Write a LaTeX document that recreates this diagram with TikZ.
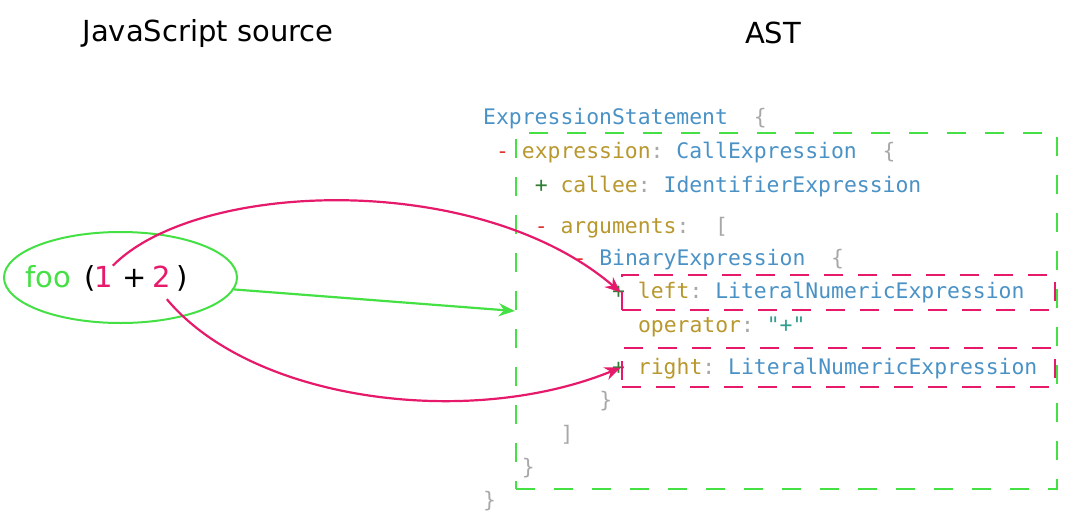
\documentclass[tikz,border=0pt]{standalone}
\usepackage{fontspec}
\setmainfont{DejaVu Sans}
\setmonofont{DejaVu Sans Mono}
\usetikzlibrary{arrows.meta, positioning, shapes.geometric}

\definecolor{astblue}{HTML}{4A92C6}
\definecolor{astgold}{HTML}{B8982E}
\definecolor{astgrey}{HTML}{A8A8A8}
\definecolor{astred}{HTML}{E0342F}
\definecolor{astplus}{HTML}{2E7D32}
\definecolor{aststrcol}{HTML}{2F9E8F}
\definecolor{linkpink}{HTML}{E6196B}
\definecolor{boxgreen}{HTML}{44E044}

% token colours for the AST listing
\newcommand{\asttype}[1]{{\color{astblue}#1}}
\newcommand{\astkey}[1]{{\color{astgold}#1}}
\newcommand{\astpunct}[1]{{\color{astgrey}#1}}
\newcommand{\astminus}{{\color{astred}-}}
\newcommand{\astplus}{{\color{astplus}+}}
\newcommand{\aststr}[1]{{\color{aststrcol}#1}}

\begin{document}
\begin{tikzpicture}[
    x=1pt, y=-1pt,
    >=Stealth, % Set default arrow tip style
    title/.style={font=\fontsize{29}{32}\selectfont, text=black},
    src/.style={font=\fontsize{29}{32}\selectfont, inner sep=0pt, anchor=base west},
    code/.style={font=\ttfamily\fontsize{21.4}{24}\selectfont, inner sep=0pt, anchor=base west},
    greenbox/.style={draw=boxgreen, line width=2.4pt, dash pattern=on 19pt off 19pt},
    pinkbox/.style={draw=linkpink, line width=2.4pt, dash pattern=on 19pt off 15pt},
    pinklink/.style={->, draw=linkpink, line width=2.2pt, >={Stealth[length=16pt, width=13pt]}},
    greenlink/.style={->, draw=boxgreen, line width=2.2pt, >={Stealth[length=16pt, width=13pt]}}
]
    \useasboundingbox (0,0) rectangle (1080,525);

    % Titles
    \node[title] (jstitle) at (208,33) {JavaScript source};
    \node[title] (asttitle) at (773,33) {AST};

    % Source expression
    \node[draw=boxgreen, line width=2pt, ellipse, minimum width=233pt, minimum height=91pt] (source) at (120.5,277.5) {};
    \node[src, text=boxgreen] (foo) at (25,287) {foo};
    \node[src] (lpar) at (84,287) {(};
    \node[src, text=linkpink] (one) at (94,287) {1};
    \node[src] (plus) at (122,287) {+};
    \node[src, text=linkpink] (two) at (152,287) {2};
    \node[src] (rpar) at (176,287) {)};

    % AST listing (one column = 12.9)
    \node[code] (stmt)    at (483.0,124) {\asttype{ExpressionStatement}\ \ \astpunct{\{}};
    \node[code] (expr)    at (495.9,158) {\astminus\ \astkey{expression}\astpunct{:} \asttype{CallExpression}\ \ \astpunct{\{}};
    \node[code] (callee)  at (534.6,192) {\astplus\ \astkey{callee}\astpunct{:} \asttype{IdentifierExpression}};
    \node[code] (args)    at (534.6,233) {\astminus\ \astkey{arguments}\astpunct{:}\ \ \astpunct{[}};
    \node[code] (binexp)  at (573.3,265) {\astminus\ \asttype{BinaryExpression}\ \ \astpunct{\{}};
    \node[code] (left)    at (612.0,298) {\astplus\ \astkey{left}\astpunct{:} \asttype{LiteralNumericExpression}};
    \node[code] (op)      at (637.8,332) {\astkey{operator}\astpunct{:} \aststr{"+"}};
    \node[code] (right)   at (612.0,374) {\astplus\ \astkey{right}\astpunct{:} \asttype{LiteralNumericExpression}};
    \node[code] (binend)  at (599.1,407) {\astpunct{\}}};
    \node[code] (argsend) at (560.4,441) {\astpunct{]}};
    \node[code] (exprend) at (521.7,474) {\astpunct{\}}};
    \node[code] (stmtend) at (483.0,507) {\astpunct{\}}};

    % Dashed boxes
    \node[greenbox, minimum width=541pt, minimum height=356pt, inner sep=0pt] (callbox) at (786.5,311) {};
    \node[pinkbox, minimum width=433pt, minimum height=35pt, inner sep=0pt] (leftbox) at (838.5,292.5) {};
    \node[pinkbox, minimum width=433pt, minimum height=39pt, inner sep=0pt] (rightbox) at (838.5,367.5) {};

    % Links from source to AST
    \draw[greenlink] (source.-6) -- (callbox.west);
    \draw[pinklink] (one.north east) .. controls +(85,-86) and +(-142,-122) .. (leftbox.west);
    \draw[pinklink] ([shift={(-4,12)}]two.south east) .. controls +(85,102) and +(-152,62) .. (rightbox.west);

\end{tikzpicture}
\end{document}
